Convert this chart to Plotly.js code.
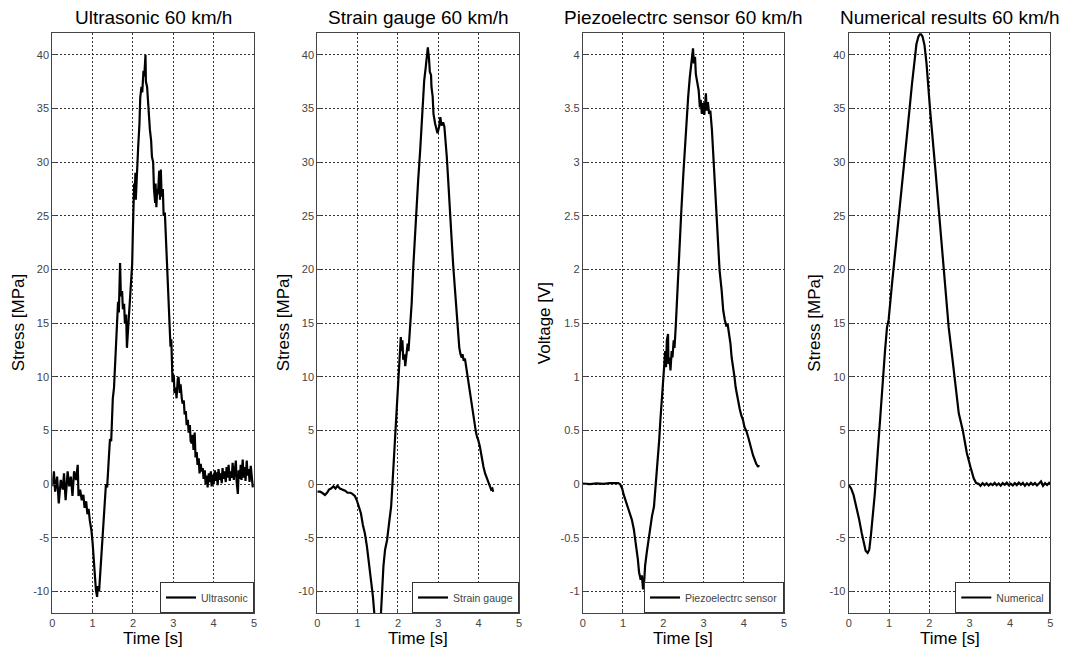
<!DOCTYPE html>
<html><head><meta charset="utf-8">
<script src="https://cdn.plot.ly/plotly-3.0.1.min.js"></script>
<style>html,body{margin:0;padding:0;background:#fff}#chart{width:1067px;height:650px}</style>
</head><body><div id="chart"></div>
<script>
// ---------- DATA ----------
const timeTicks = [0, 1, 2, 3, 4, 5];
const timeTickLabels = ['0', '1', '2', '3', '4', '5'];
const stressTicks = [-10, -5, 0, 5, 10, 15, 20, 25, 30, 35, 40];
const stressTickLabels = ['-10', '-5', '0', '5', '10', '15', '20', '25', '30', '35', '40'];
const voltageTicks = [-1, -0.5, 0, 0.5, 1, 1.5, 2, 2.5, 3, 3.5, 4];
const voltageTickLabels = ['-1', '-0.5', '0', '0.5', '1', '1.5', '2', '2.5', '3', '3.5', '4'];

const panelTitles = ['Ultrasonic 60 km/h', 'Strain gauge 60 km/h', 'Piezoelectrc sensor 60 km/h', 'Numerical results 60 km/h'];
const seriesNames = ['Ultrasonic', 'Strain gauge', 'Piezoelectrc sensor', 'Numerical'];
const yAxisLabels = ['Stress [MPa]', 'Stress [MPa]', 'Voltage [V]', 'Stress [MPa]'];
const xAxisLabel = 'Time [s]';

const ultrasonicTime = [0.00,0.04,0.07,0.12,0.16,0.21,0.26,0.29,0.33,0.38,0.42,0.46,0.50,0.54,0.59,0.63,0.65,0.69,0.73,0.77,0.80,0.84,0.87,0.90,0.93,0.97,1.00,1.03,1.06,1.08,1.11,1.13,1.16,1.18,1.21,1.23,1.26,1.28,1.31,1.33,1.36,1.38,1.41,1.43,1.46,1.48,1.50,1.53,1.55,1.58,1.60,1.63,1.65,1.68,1.70,1.73,1.75,1.78,1.80,1.83,1.85,1.88,1.90,1.93,1.95,1.98,2.00,2.03,2.04,2.06,2.07,2.09,2.11,2.13,2.16,2.18,2.21,2.23,2.26,2.28,2.31,2.32,2.35,2.37,2.40,2.42,2.45,2.47,2.50,2.52,2.55,2.56,2.58,2.60,2.62,2.65,2.67,2.69,2.71,2.74,2.76,2.79,2.81,2.84,2.86,2.88,2.91,2.93,2.95,2.97,2.98,3.01,3.03,3.06,3.08,3.11,3.13,3.16,3.18,3.21,3.23,3.26,3.28,3.31,3.33,3.36,3.38,3.41,3.43,3.46,3.48,3.50,3.53,3.55,3.58,3.60,3.63,3.65,3.68,3.70,3.73,3.75,3.78,3.80,3.83,3.85,3.88,3.90,3.93,3.95,3.98,4.00,4.03,4.05,4.07,4.10,4.12,4.15,4.17,4.20,4.22,4.25,4.27,4.30,4.32,4.35,4.37,4.40,4.42,4.45,4.47,4.50,4.52,4.55,4.57,4.60,4.62,4.65,4.67,4.69,4.72,4.74,4.77,4.79,4.82,4.84,4.87,4.89,4.92,4.94,4.97,5.00];
const ultrasonicStress = [-0.2,1.2,-0.7,0.7,-1.8,0.4,-0.5,1.0,-1.5,1.2,-0.2,0.7,-1.1,1.2,0.4,1.8,-1.1,-0.5,-1.5,-1.0,-2.2,-1.6,-2.8,-2.3,-3.4,-4.3,-5.5,-7.2,-8.5,-9.8,-10.5,-9.5,-10.0,-8.8,-8.0,-6.5,-4.5,-3.2,-1.8,0.0,-0.3,1.5,3.0,4.2,4.0,6.0,8.0,9.0,10.5,13.0,15.0,17.0,16.0,20.6,17.5,18.0,16.3,16.8,15.0,15.8,12.7,14.5,16.0,17.5,19.5,20.5,24.0,28.0,26.5,29.0,26.5,28.5,30.0,31.5,33.5,36.0,37.0,36.5,38.5,38.0,40.0,37.5,37.0,35.5,34.5,33.0,32.0,30.5,30.0,27.5,26.2,28.0,25.8,27.5,27.0,29.2,26.5,29.3,26.8,27.5,25.0,25.3,23.5,21.0,18.5,16.5,14.0,12.8,13.5,10.5,9.5,10.2,8.5,9.0,8.0,9.8,10.0,8.5,9.3,8.0,7.5,7.8,6.5,6.8,5.5,6.0,4.8,5.5,4.0,3.8,4.6,3.2,4.8,2.5,3.0,1.8,2.4,1.0,1.9,1.2,1.5,0.5,1.3,0.0,0.8,-0.3,1.0,0.2,1.2,-0.2,0.9,0.0,1.3,0.3,1.1,-0.1,1.4,0.4,1.0,0.1,1.5,0.5,1.2,0.2,1.6,0.6,1.8,0.3,1.2,0.6,2.0,0.4,1.5,2.2,0.2,-0.9,1.3,0.5,1.8,0.4,2.3,0.6,1.6,0.3,2.2,0.8,1.4,0.2,1.7,0.5,-0.3];

const strainTime = [0.00,0.07,0.12,0.19,0.24,0.29,0.34,0.40,0.45,0.50,0.56,0.62,0.69,0.75,0.82,0.87,0.93,0.98,1.03,1.08,1.13,1.18,1.23,1.28,1.33,1.38,1.41,1.45,1.50,1.54,1.58,1.61,1.64,1.68,1.73,1.78,1.83,1.86,1.89,1.93,1.96,1.99,2.02,2.05,2.07,2.09,2.11,2.13,2.16,2.18,2.21,2.24,2.26,2.29,2.31,2.34,2.38,2.42,2.46,2.50,2.55,2.59,2.62,2.65,2.69,2.72,2.74,2.77,2.79,2.82,2.83,2.86,2.88,2.92,2.95,2.98,3.02,3.05,3.08,3.12,3.15,3.18,3.21,3.25,3.29,3.33,3.37,3.41,3.45,3.48,3.50,3.52,3.55,3.58,3.60,3.63,3.66,3.69,3.73,3.76,3.79,3.83,3.86,3.89,3.93,3.96,3.99,4.03,4.07,4.12,4.16,4.20,4.24,4.27,4.31,4.34,4.36];
const strainStress = [-0.7,-0.7,-0.8,-1.0,-0.8,-0.5,-0.4,-0.2,-0.4,-0.15,-0.4,-0.5,-0.6,-0.8,-0.8,-0.9,-1.1,-1.5,-2.1,-2.7,-3.8,-4.6,-5.8,-7.3,-8.9,-10.5,-11.9,-13.3,-14.0,-13.3,-11.9,-9.5,-7.6,-6.1,-5.2,-3.6,-2.1,-0.2,1.9,4.7,6.6,9.0,10.6,12.1,13.7,12.4,13.4,11.6,12.1,11.0,12.1,13.1,12.4,14.0,15.2,16.9,20.3,23.4,25.2,28.3,31.1,33.6,36.1,37.6,38.9,40.1,40.7,39.6,38.4,38.1,37.0,36.1,34.5,33.6,33.0,32.7,33.3,34.2,33.4,33.7,33.3,32.0,30.5,28.0,24.9,22.8,20.3,18.1,15.9,14.4,14.0,12.7,12.1,11.8,12.1,11.5,11.7,10.9,10.1,9.3,8.4,7.5,6.4,5.6,4.9,4.4,4.1,3.5,2.6,1.6,1.0,0.6,0.1,-0.2,-0.5,-0.4,-0.7];

const piezoTime = [0.00,0.18,0.35,0.51,0.68,0.80,0.88,0.93,0.98,1.02,1.07,1.12,1.17,1.22,1.27,1.32,1.37,1.40,1.44,1.47,1.50,1.53,1.55,1.59,1.63,1.67,1.72,1.77,1.80,1.83,1.87,1.90,1.93,1.97,2.00,2.02,2.05,2.07,2.09,2.12,2.13,2.16,2.18,2.21,2.23,2.26,2.28,2.31,2.33,2.37,2.41,2.45,2.50,2.54,2.58,2.62,2.66,2.69,2.72,2.74,2.76,2.79,2.81,2.84,2.88,2.91,2.93,2.96,2.99,3.02,3.06,3.08,3.11,3.14,3.17,3.21,3.24,3.28,3.32,3.36,3.40,3.45,3.49,3.53,3.57,3.60,3.64,3.67,3.70,3.74,3.77,3.80,3.83,3.87,3.90,3.94,3.98,4.02,4.07,4.11,4.15,4.19,4.23,4.27,4.31,4.36,4.37];
const piezoVoltage = [0.005,0.0,0.008,0.003,0.01,0.012,0.01,0.0,-0.04,-0.1,-0.16,-0.22,-0.27,-0.33,-0.42,-0.55,-0.70,-0.82,-0.89,-0.85,-0.98,-0.89,-0.76,-0.64,-0.52,-0.42,-0.30,-0.21,-0.08,0.04,0.23,0.41,0.60,0.81,0.97,1.15,1.24,1.09,1.34,1.40,1.12,1.18,1.06,1.24,1.18,1.34,1.27,1.46,1.63,1.90,2.21,2.55,2.89,3.17,3.45,3.61,3.79,3.89,3.95,4.06,3.92,3.98,3.82,3.76,3.67,3.51,3.58,3.45,3.55,3.44,3.64,3.48,3.56,3.45,3.48,3.30,3.08,2.77,2.49,2.21,1.99,1.81,1.62,1.53,1.47,1.49,1.40,1.31,1.18,1.09,1.00,0.90,0.83,0.75,0.70,0.64,0.60,0.53,0.49,0.44,0.38,0.32,0.27,0.23,0.19,0.16,0.18];

const numericalTime = [0.00,0.06,0.12,0.19,0.26,0.32,0.37,0.42,0.47,0.51,0.55,0.60,0.65,0.70,0.75,0.80,0.85,0.90,0.95,0.99,1.07,1.20,1.32,1.45,1.57,1.63,1.68,1.73,1.78,1.83,1.88,1.93,1.97,2.02,2.15,2.27,2.40,2.48,2.56,2.62,2.73,2.83,2.93,3.02,3.10,3.16,3.22,3.27,3.32,3.37,3.42,3.47,3.52,3.57,3.62,3.67,3.72,3.77,3.82,3.87,3.92,3.97,4.02,4.07,4.12,4.17,4.22,4.27,4.32,4.37,4.42,4.47,4.52,4.57,4.62,4.67,4.72,4.77,4.82,4.87,4.92,4.97,5.00];
const numericalStress = [-0.06,-0.4,-1.0,-2.1,-3.3,-4.5,-5.5,-6.2,-6.4,-6.1,-4.8,-3.0,-0.8,1.9,4.7,7.5,10.0,12.4,14.6,15.3,18.5,23.2,27.9,32.7,37.3,39.6,41.0,41.7,42.0,41.7,40.9,39.2,37.0,34.8,29.3,23.7,18.1,14.6,12.1,10.0,6.6,5.0,2.9,1.6,0.55,0.1,0.05,-0.15,0.1,-0.1,0.08,-0.12,0.05,-0.08,0.12,-0.1,0.06,-0.14,0.1,-0.06,0.14,-0.1,0.05,-0.12,0.1,-0.08,0.15,-0.05,0.12,-0.15,0.08,-0.1,0.12,-0.06,0.1,-0.12,0.08,0.25,-0.15,0.1,-0.08,0.12,0.0];

// ---------- LAYOUT ----------
const W = 1067, H = 650;
const FONT = 'Liberation Sans, Arial, Helvetica, sans-serif';
const plotLeft = [52.3, 317.3, 582.7, 848.7];
const plotRight = [254, 519, 784, 1050.3];
const plotTop = 33.3, plotBottom = 613;
const yLabelX = [18, 283, 544, 814.5];

const seriesX = [ultrasonicTime, strainTime, piezoTime, numericalTime];
const seriesY = [ultrasonicStress, strainStress, piezoVoltage, numericalStress];
const yRanges = [[-12, 42], [-12, 42], [-1.2, 4.2], [-12, 42]];

const traces = [];
const layout = {
  width: W, height: H,
  margin: {l: 0, r: 0, t: 0, b: 0},
  paper_bgcolor: '#fff', plot_bgcolor: '#fff',
  font: {family: FONT, color: '#000'},
  showlegend: true,
  annotations: []
};

for (let i = 0; i < 4; i++) {
  const sfx = i === 0 ? '' : String(i + 1);
  const legName = 'legend' + sfx;
  traces.push({
    type: 'scatter', mode: 'lines',
    x: seriesX[i], y: seriesY[i],
    name: seriesNames[i],
    xaxis: 'x' + sfx, yaxis: 'y' + sfx,
    legend: legName, showlegend: true,
    line: {color: '#000', width: 2.2}
  });
  const isVolt = i === 2;
  const common = {
    showline: true, mirror: true, linecolor: '#444', linewidth: 1,
    showgrid: true, gridcolor: '#333', gridwidth: 1, griddash: '2px,2px',
    zeroline: false, ticks: 'inside', ticklen: 4, tickcolor: '#444',
    tickfont: {family: FONT, size: 11, color: '#444'},
    fixedrange: true
  };
  layout['xaxis' + sfx] = Object.assign({}, common, {
    domain: [plotLeft[i] / W, plotRight[i] / W],
    range: [0, 5], tickmode: 'array', tickvals: timeTicks, ticktext: timeTickLabels,
    anchor: 'y' + sfx
  });
  layout['yaxis' + sfx] = Object.assign({}, common, {
    domain: [1 - plotBottom / H, 1 - plotTop / H],
    range: yRanges[i], tickmode: 'array',
    tickvals: isVolt ? voltageTicks : stressTicks,
    ticktext: isVolt ? voltageTickLabels : stressTickLabels,
    anchor: 'x' + sfx
  });
  layout[legName] = {
    visible: true,
    x: plotRight[i] / W, y: 1 - plotBottom / H,
    xanchor: 'right', yanchor: 'bottom',
    bgcolor: '#fff', bordercolor: '#333', borderwidth: 1,
    font: {family: FONT, size: 10.5, color: '#444'},
    itemwidth: 30
  };
  const cx = (plotLeft[i] + plotRight[i]) / 2 / W;
  layout.annotations.push({
    text: panelTitles[i], xref: 'paper', yref: 'paper', x: cx, y: 1 - 17 / H,
    xanchor: 'center', yanchor: 'middle', showarrow: false,
    font: {family: FONT, size: 19, color: '#000'}
  });
  layout.annotations.push({
    text: xAxisLabel, xref: 'paper', yref: 'paper', x: cx, y: 1 - 638 / H,
    xanchor: 'center', yanchor: 'middle', showarrow: false,
    font: {family: FONT, size: 17, color: '#000'}
  });
  layout.annotations.push({
    text: yAxisLabels[i], xref: 'paper', yref: 'paper', x: yLabelX[i] / W,
    y: 1 - (plotTop + plotBottom) / 2 / H,
    xanchor: 'center', yanchor: 'middle', textangle: -90, showarrow: false,
    font: {family: FONT, size: 17, color: '#000'}
  });
}

Plotly.newPlot('chart', traces, layout, {displayModeBar: false, staticPlot: true});
</script></body></html>
